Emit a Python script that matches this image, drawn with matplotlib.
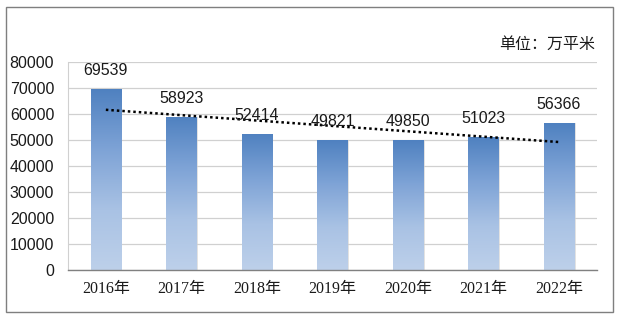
import matplotlib
matplotlib.use("Agg")
import matplotlib.pyplot as plt
import numpy as np
from matplotlib.colors import LinearSegmentedColormap
from matplotlib.patches import Rectangle

years = ["2016年", "2017年", "2018年", "2019年", "2020年", "2021年", "2022年"]
values = [69539, 58923, 52414, 49821, 49850, 51023, 56366]
yticks = [0, 10000, 20000, 30000, 40000, 50000, 60000, 70000, 80000]
unit_text = "单位：万平米"

fig = plt.figure(figsize=(6.19, 3.18), dpi=100)
ax = fig.add_axes([0.110, 0.151, 0.854, 0.654])

# figure border
fig.patches.append(Rectangle((0.010, 0.018), 0.980, 0.960, transform=fig.transFigure,
                             fill=False, edgecolor="#7f7f7f", linewidth=1.0))

x = np.arange(len(values))
width = 0.40
cmap = LinearSegmentedColormap.from_list("g", ["#bdd0ea", "#a9c2e4", "#7ea3d6", "#4f81c0"])
grad = np.linspace(0, 1, 256).reshape(-1, 1)

bars = ax.bar(x, values, width=width, color="none", edgecolor="none", zorder=2)
for b, v in zip(bars, values):
    x0 = b.get_x()
    im = ax.imshow(grad, extent=(x0, x0 + width, 0, v), origin="lower", cmap=cmap,
                   aspect="auto", zorder=2, interpolation="bilinear")
    im.set_clip_path(b)
    # subtle shadow on the right
    ax.add_patch(Rectangle((x0 + width, 0), 0.02, v, facecolor="#d0d0d0", edgecolor="none",
                           alpha=0.6, zorder=1.5))
    ax.annotate(f"{v}", (b.get_x() + width / 2, v), xytext=(0, 8), textcoords="offset points",
                ha="center", va="bottom", fontsize=11.5, family=["Liberation Sans Narrow", "Liberation Sans"],
                color="#1a1a1a", zorder=4)

# linear trend line
coef = np.polyfit(x, values, 1)
ax.plot(x, np.polyval(coef, x), linestyle=(0, (1, 1.2)), color="black", linewidth=1.8, zorder=3)

ax.set_xlim(-0.5, len(values) - 0.5)
ax.set_ylim(0, 80000)
ax.set_yticks(yticks)
ax.set_yticklabels([str(t) for t in yticks], fontsize=11.5,
                   family=["Liberation Sans Narrow", "Liberation Sans"], color="#1a1a1a")
ax.set_xticks(x)
ax.set_xticklabels(years, fontsize=11.5, family=["Liberation Serif", "Noto Sans CJK SC"], color="#1a1a1a")
ax.tick_params(axis="both", length=0)
ax.tick_params(axis="x", pad=8)
ax.tick_params(axis="y", pad=10)
ax.yaxis.grid(True, color="#d0d0d0", linewidth=0.9, zorder=0)
ax.set_axisbelow(True)
for s in ["top", "right"]:
    ax.spines[s].set_visible(False)
ax.spines["left"].set_color("#d0d0d0")
ax.spines["bottom"].set_color("#808080")
ax.spines["bottom"].set_linewidth(1.0)

fig.text(0.962, 0.862, unit_text, ha="right", va="center", fontsize=11.5,
         family=["Noto Sans CJK SC", "DejaVu Sans"], color="#1a1a1a")

fig.savefig("out.png", dpi=100)
